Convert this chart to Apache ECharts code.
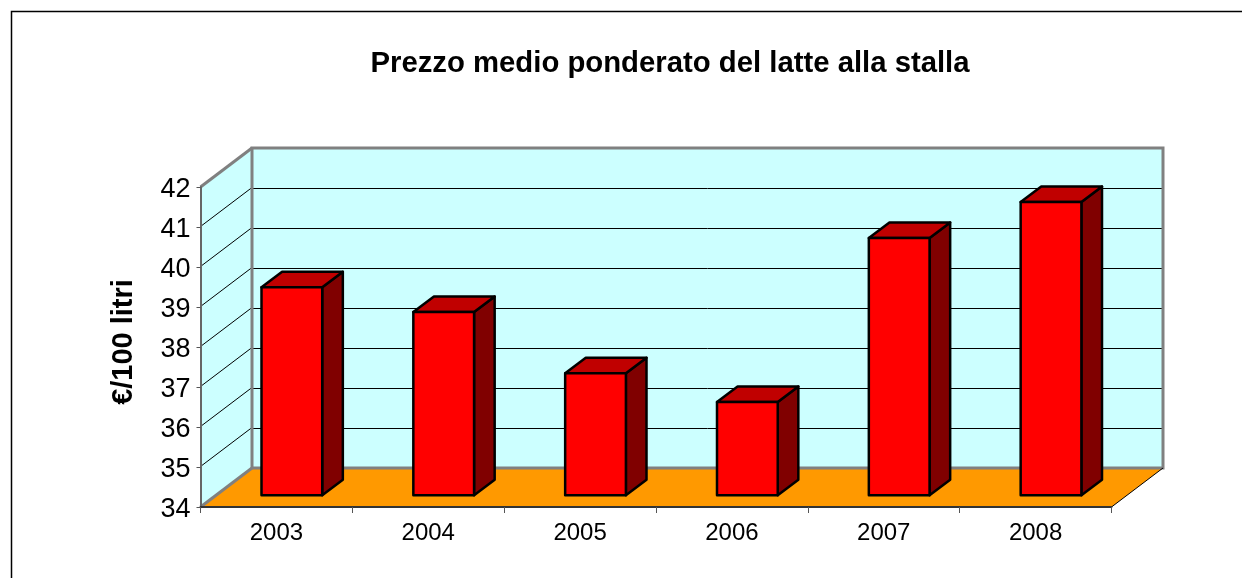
<!DOCTYPE html>
<html>
<head>
<meta charset="utf-8">
<style>html,body{margin:0;padding:0;background:#fff}#c{width:1242px;height:578px}</style>
<script src="https://cdn.jsdelivr.net/npm/echarts@6/dist/echarts.min.js"></script>
</head>
<body>
<div id="c"></div>
<script>
var titleText = 'Prezzo medio ponderato del latte alla stalla';
var yName = '€/100 litri';
var years = ['2003','2004','2005','2006','2007','2008'];
var prices = [39.2, 38.58, 37.05, 36.33, 40.43, 41.33];
var gridTicks = [35,36,37,38,39,40,41,42];

var DX = 51.5, DY = -39;          // projected depth of the box
var BAR_NEAR = 0.3, BAR_FAR = 0.7, BAR_W = 0.4;
var chart = echarts.init(document.getElementById('c'), null, {renderer:'canvas'});

function floorAndWalls(params, api){
  var g = params.coordSys, x=g.x, y=g.y, w=g.width, h=g.height;
  return {type:'group', children:[
    {type:'polygon', shape:{points:[[x,y],[x+DX,y+DY],[x+DX,y+h+DY],[x,y+h]]}, style:{fill:'#CCFFFF',stroke:null}},
    {type:'rect', shape:{x:x+DX,y:y+DY,width:w,height:h}, style:{fill:'#CCFFFF',stroke:null}},
    {type:'polygon', shape:{points:[[x,y+h],[x+w,y+h],[x+w+DX,y+h+DY],[x+DX,y+h+DY]]}, style:{fill:'#FF9900',stroke:null}}
  ]};
}
function wallEdges(params, api){
  var g = params.coordSys, x=g.x, y=g.y, w=g.width, h=g.height;
  var gray = {stroke:'#808080', lineWidth:3, fill:null};
  return {type:'group', children:[
    {type:'rect', shape:{x:x+DX,y:y+DY,width:w,height:h}, style:gray},
    {type:'line', shape:{x1:x,y1:y,x2:x+DX,y2:y+DY}, style:{stroke:'#808080',lineWidth:3}},
    {type:'line', shape:{x1:x,y1:y+h,x2:x+DX,y2:y+h+DY}, style:{stroke:'#808080',lineWidth:3}},
    {type:'line', shape:{x1:x+w,y1:y+h,x2:x+w+DX,y2:y+h+DY}, style:{stroke:'#000',lineWidth:1}}
  ]};
}
function gridLine(params, api){
  var g = params.coordSys;
  var p = api.coord([0, api.value(0)]);
  var yy = Math.round(p[1]) + 0.5;
  return {type:'group', children:[
    {type:'line', shape:{x1:g.x,y1:yy-1,x2:g.x+DX,y2:yy-1+DY}, style:{stroke:'#000',lineWidth:1}},
    {type:'line', shape:{x1:g.x+DX,y1:yy+DY,x2:g.x+g.width+DX,y2:yy+DY}, style:{stroke:'#000',lineWidth:1}}
  ]};
}
function bar3d(params, api){
  var c = api.value(0), v = api.value(1);
  var top = api.coord([c, v]), base = api.coord([c, 34]);
  var bw = api.size([1,0])[0] * BAR_W;
  var nx = DX*BAR_NEAR, ny = DY*BAR_NEAR;
  var fx = DX*(BAR_FAR-BAR_NEAR), fy = DY*(BAR_FAR-BAR_NEAR);
  var l = top[0]-bw/2+nx, r = top[0]+bw/2+nx, t = top[1]+ny, b = base[1]+ny;
  var st = {stroke:'#000', lineWidth:2.5, lineJoin:'round'};
  return {type:'group', children:[
    {type:'polygon', shape:{points:[[r,t],[r+fx,t+fy],[r+fx,b+fy],[r,b]]}, style:Object.assign({fill:'#800000'},st)},
    {type:'polygon', shape:{points:[[l,t],[l+fx,t+fy],[r+fx,t+fy],[r,t]]}, style:Object.assign({fill:'#C00000'},st)},
    {type:'rect', shape:{x:l,y:t,width:r-l,height:b-t}, style:Object.assign({fill:'#FF0000'},st)}
  ]};
}

chart.setOption({
  animation:false,
  backgroundColor:'#fff',
  title:{text:titleText,left:665,top:44,textAlign:'center',
    textStyle:{fontFamily:'Liberation Sans',fontWeight:'bold',fontSize:29.3,color:'#000'}},
  grid:{left:200.5,top:187,width:911,height:320,containLabel:false},
  xAxis:{type:'category',data:years,boundaryGap:true,z:10,
    axisLine:{show:true,lineStyle:{color:'#333',width:2}},
    axisTick:{show:true,length:6,alignWithLabel:false,lineStyle:{color:'#555',width:1}},
    axisLabel:{margin:14,fontFamily:'Liberation Sans',fontSize:24,color:'#000'},
    splitLine:{show:false}},
  yAxis:{type:'value',min:34,max:42,interval:1,name:yName,nameLocation:'middle',nameGap:62,nameRotate:90,z:10,
    nameTextStyle:{fontFamily:'Liberation Sans',fontWeight:'bold',fontSize:29,color:'#000',padding:[0,0,0,10]},
    axisLine:{show:true,lineStyle:{color:'#666',width:2}},
    axisTick:{show:true,length:4,lineStyle:{color:'#555',width:1}},
    axisLabel:{margin:10,formatter:'{n|{value}}',rich:{n:{fontFamily:'Liberation Sans',fontSize:27,color:'#000',padding:[6,0,0,0]}}},
    splitLine:{show:false}},
  series:[
    {type:'custom',name:'walls',coordinateSystem:'cartesian2d',data:[[0,34]],renderItem:floorAndWalls,clip:false,silent:true,z:1},
    {type:'custom',name:'grid',coordinateSystem:'cartesian2d',data:gridTicks.map(function(t){return [t];}),encode:{y:0},renderItem:gridLine,clip:false,silent:true,z:2},
    {type:'custom',name:'edges',coordinateSystem:'cartesian2d',data:[[0,34]],renderItem:wallEdges,clip:false,silent:true,z:3},
    {type:'custom',name:'Prezzo',coordinateSystem:'cartesian2d',data:prices.map(function(v,i){return [i,v];}),encode:{x:0,y:1},renderItem:bar3d,clip:false,z:4}
  ],
  graphic:[{type:'polyline',shape:{points:[[11.5,578],[11.5,11.5],[1242,11.5]]},style:{stroke:'#000',lineWidth:1.5,fill:null},z:-1}]
});
</script>
</body>
</html>
